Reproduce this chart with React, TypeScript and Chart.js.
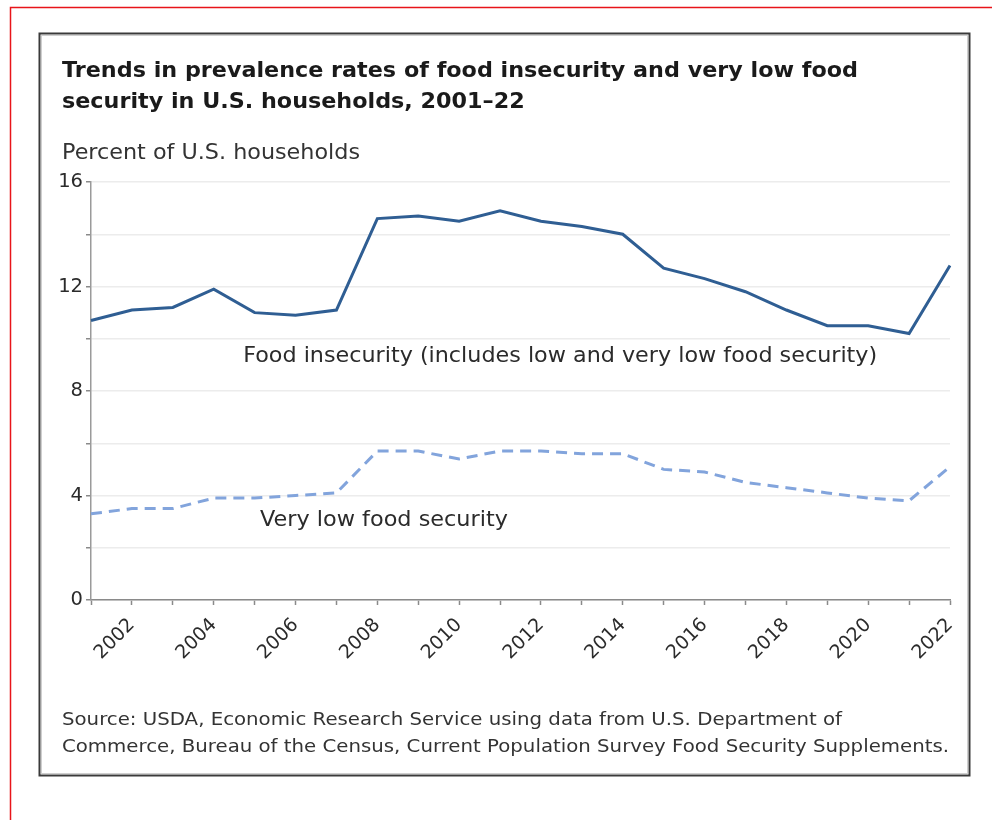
import React, { useEffect, useRef } from "react";
import { Chart, registerables } from "chart.js";

Chart.register(...registerables);

const years = ["2001","2002","2003","2004","2005","2006","2007","2008","2009","2010","2011","2012","2013","2014","2015","2016","2017","2018","2019","2020","2021","2022"];
const foodInsecurity = [10.7, 11.1, 11.2, 11.9, 11.0, 10.9, 11.1, 14.6, 14.7, 14.5, 14.9, 14.5, 14.3, 14.0, 12.7, 12.3, 11.8, 11.1, 10.5, 10.5, 10.2, 12.8];
const veryLowFoodSecurity = [3.3, 3.5, 3.5, 3.9, 3.9, 4.0, 4.1, 5.7, 5.7, 5.4, 5.7, 5.7, 5.6, 5.6, 5.0, 4.9, 4.5, 4.3, 4.1, 3.9, 3.8, 5.1];

const titleLines = [
  "Trends in prevalence rates of food insecurity and very low food",
  "security in U.S. households, 2001–22",
];
const yAxisTitle = "Percent of U.S. households";
const seriesLabels = [
  "Food insecurity (includes low and very low food security)",
  "Very low food security",
];
const sourceLines = [
  "Source: USDA, Economic Research Service using data from U.S. Department of",
  "Commerce, Bureau of the Census, Current Population Survey Food Security Supplements.",
];

function fillFit(ctx: CanvasRenderingContext2D, text: string, x: number, y: number, target: number) {
  const w = ctx.measureText(text).width;
  const s = target / w;
  ctx.save();
  ctx.translate(x, y);
  ctx.scale(s, 1);
  ctx.fillText(text, 0, 0);
  ctx.restore();
}

const decorPlugin = {
  id: "decor",
  beforeDraw(chart: any) {
    const ctx = chart.ctx as CanvasRenderingContext2D;
    ctx.save();
    ctx.fillStyle = "#ffffff";
    ctx.fillRect(0, 0, chart.width, chart.height);
    ctx.strokeStyle = "#e8141a";
    ctx.lineWidth = 1.5;
    ctx.beginPath();
    ctx.moveTo(10.5, chart.height + 5);
    ctx.lineTo(10.5, 7.5);
    ctx.lineTo(chart.width + 5, 7.5);
    ctx.stroke();
    ctx.strokeStyle = "#cfcfcf";
    ctx.lineWidth = 1;
    ctx.strokeRect(41.5, 35.5, 926, 738);
    ctx.strokeStyle = "#3a3a3a";
    ctx.lineWidth = 2;
    ctx.strokeRect(39.5, 33.5, 930, 742);
    ctx.restore();
  },
  afterDraw(chart: any) {
    const ctx = chart.ctx as CanvasRenderingContext2D;
    const xs = chart.scales.x;
    const ys = chart.scales.y;
    ctx.save();
    ctx.textAlign = "left";
    ctx.textBaseline = "alphabetic";
    ctx.fillStyle = "#1a1a1a";
    ctx.font = "bold 22px 'DejaVu Sans'";
    const w1 = ctx.measureText(titleLines[0]).width;
    const s = 796 / w1;
    ctx.save();
    ctx.translate(62, 77);
    ctx.scale(s, 1);
    ctx.fillText(titleLines[0], 0, 0);
    ctx.fillText(titleLines[1], 0, 31);
    ctx.restore();

    ctx.fillStyle = "#333333";
    ctx.font = "20.5px 'DejaVu Sans'";
    fillFit(ctx, yAxisTitle, 62, 159, 298);

    ctx.fillStyle = "#2b2b2b";
    ctx.font = "20.5px 'DejaVu Sans'";
    fillFit(ctx, seriesLabels[0], xs.getPixelForValue(3.72), ys.getPixelForValue(9.12), 634);
    fillFit(ctx, seriesLabels[1], xs.getPixelForValue(4.13), ys.getPixelForValue(2.84), 248);

    ctx.fillStyle = "#333333";
    ctx.font = "18.5px 'DejaVu Sans'";
    fillFit(ctx, sourceLines[0], 62, 725, 780);
    fillFit(ctx, sourceLines[1], 62, 752, 887);
    ctx.restore();
  },
};

export default function App() {
  const ref = useRef<HTMLCanvasElement>(null);
  useEffect(() => {
    if (!ref.current) return;
    const chart = new Chart(ref.current, {
      type: "line",
      data: {
        labels: years,
        datasets: [
          {
            label: seriesLabels[0],
            data: foodInsecurity,
            borderColor: "#2f5e93",
            borderWidth: 3,
            pointRadius: 0,
            tension: 0,
            fill: false,
          },
          {
            label: seriesLabels[1],
            data: veryLowFoodSecurity,
            borderColor: "#82a4dc",
            borderWidth: 3,
            borderDash: [11, 7],
            pointRadius: 0,
            tension: 0,
            fill: false,
          },
        ],
      },
      options: {
        responsive: false,
        animation: false,
        layout: { padding: { left: 40, right: 42, top: 182, bottom: 150 } },
        plugins: {
          legend: { display: false },
          tooltip: { enabled: false },
          title: { display: false },
        },
        scales: {
          x: {
            type: "category",
            offset: false,
            afterFit: (scale: any) => { scale.height = 70; },
            grid: {
              drawOnChartArea: false,
              drawTicks: true,
              tickLength: 5,
              tickColor: "#8a8a8a",
              tickWidth: 1.5,
            },
            border: { display: true, color: "#8a8a8a", width: 1.5 },
            ticks: {
              autoSkip: false,
              minRotation: 45,
              maxRotation: 45,
              padding: 9,
              color: "#2b2b2b",
              font: { family: "'DejaVu Sans'", size: 19 },
              callback: (_v: any, i: number) => (Number(years[i]) % 2 === 0 ? years[i] : ""),
            },
          },
          y: {
            min: 0,
            max: 16,
            afterFit: (scale: any) => { scale.width = 51; },
            grid: {
              color: "#ececec",
              lineWidth: 1.5,
              drawTicks: true,
              tickLength: 5,
              tickColor: "#8a8a8a",
              tickWidth: 1.5,
            },
            border: { display: true, color: "#9a9a9a", width: 1.5 },
            ticks: {
              stepSize: 2,
              padding: 3,
              color: "#2b2b2b",
              font: { family: "'DejaVu Sans'", size: 19.5 },
              callback: (v: any) => (Number(v) % 4 === 0 ? String(v) : ""),
            },
          },
        },
      },
      plugins: [decorPlugin],
    });
    return () => chart.destroy();
  }, []);
  return (
    <div style={{ position: "absolute", left: 0, top: 0, width: 992, height: 820, overflow: "hidden" }}>
      <canvas ref={ref} width={992} height={820} style={{ display: "block" }} />
    </div>
  );
}
